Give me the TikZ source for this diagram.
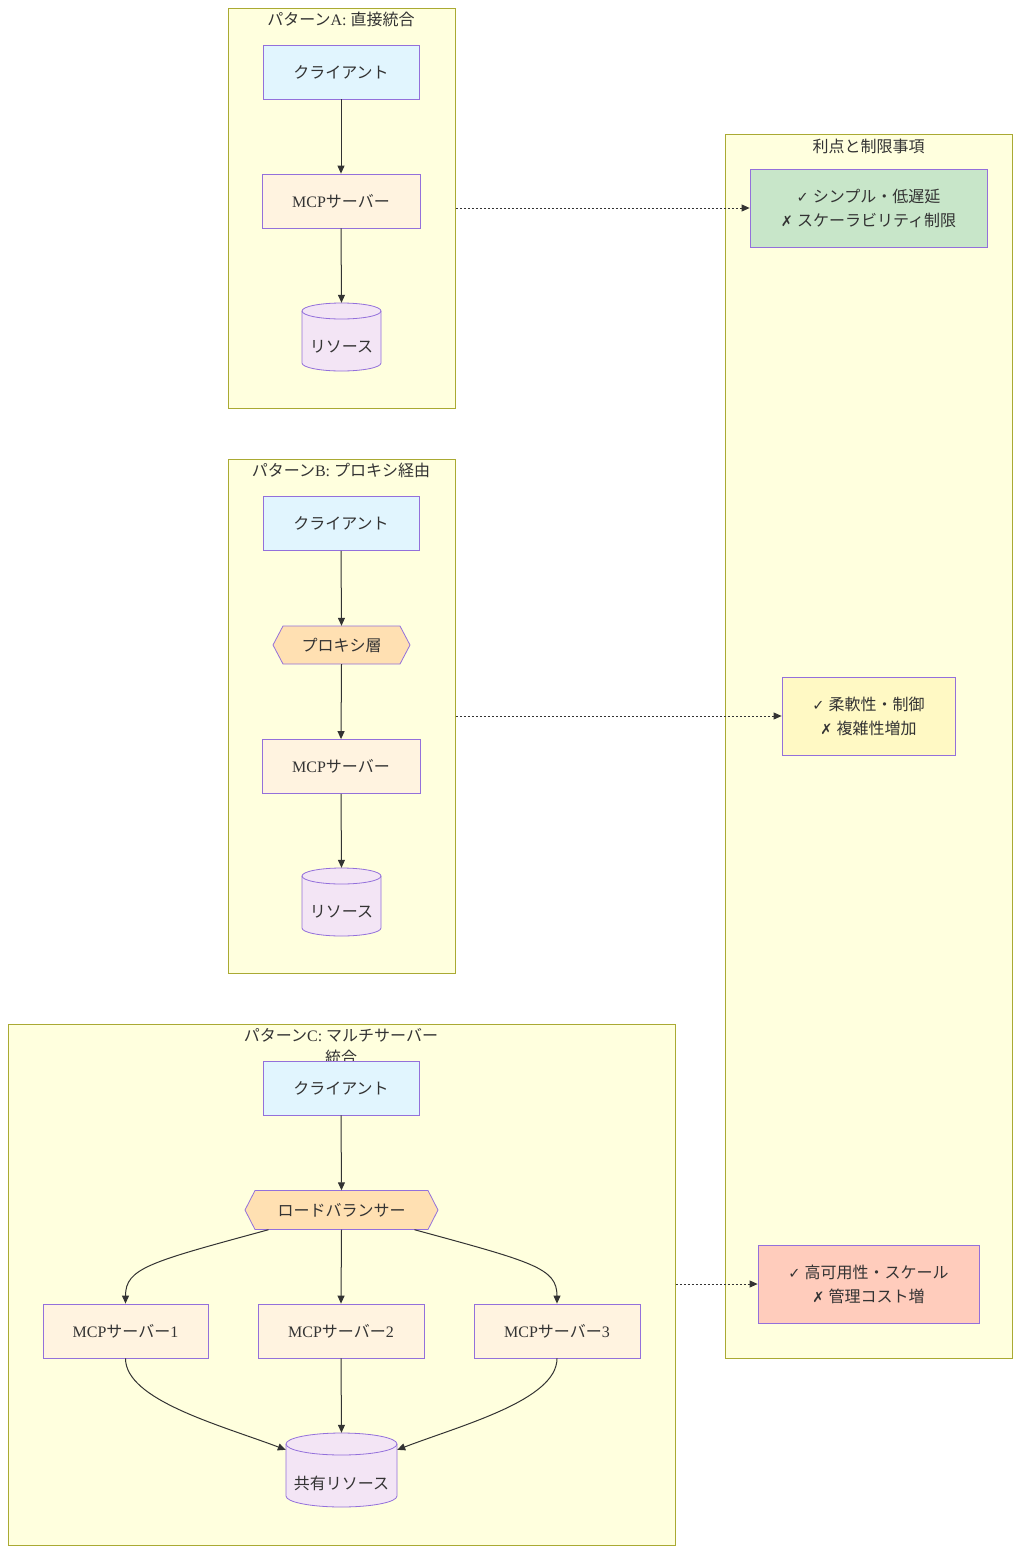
\documentclass[tikz,border=0pt]{standalone}
\usepackage{fontspec}
\setmainfont{Liberation Serif}
\newfontfamily\jp{Noto Sans CJK JP}
\newfontfamily\symf{DejaVu Sans}
\usetikzlibrary{arrows.meta,calc}
\definecolor{clfill}{HTML}{FFFFDE}
\definecolor{clborder}{HTML}{AAAA33}
\definecolor{nborder}{HTML}{9370DB}
\definecolor{clientfill}{HTML}{E1F5FE}
\definecolor{mcpfill}{HTML}{FFF3E0}
\definecolor{resfill}{HTML}{F3E5F5}
\definecolor{hexfill}{HTML}{FFE0B2}
\definecolor{profillA}{HTML}{C8E6C9}
\definecolor{profillB}{HTML}{FFF9C4}
\definecolor{profillC}{HTML}{FFCCBC}
\definecolor{edgecol}{HTML}{333333}
\definecolor{txtcol}{HTML}{333333}
\newcommand\J[1]{{\jp #1}}
\newcommand\myok{{\symf\fontsize{14.5}{16}\selectfont ✓}}
\newcommand\myng{{\symf\fontsize{14.5}{16}\selectfont ✗}}
% cylinder: name, cx, cy, w, h, ry, text
\newcommand\mycyl[7]{%
  \path[fill=resfill,draw=nborder,line width=0.8pt]
    (#2-#4/2,#3+#5/2-#6) -- (#2-#4/2,#3-#5/2+#6)
    arc[start angle=180,end angle=360,x radius=#4/2,y radius=#6]
    -- (#2+#4/2,#3+#5/2-#6)
    arc[start angle=0,end angle=180,x radius=#4/2,y radius=#6] -- cycle;
  \draw[draw=nborder,line width=0.8pt] (#2-#4/2,#3+#5/2-#6)
    arc[start angle=180,end angle=360,x radius=#4/2,y radius=#6];
  \node[inner sep=0,minimum width=#4,minimum height=#5] (#1) at (#2,#3) {};
  \node[txt] (#1-t) at (#2,#3-#6-2) {#7};}
% hexagon: name, cx, cy, w, h, d, text
\newcommand\myhex[7]{%
  \path[fill=hexfill,draw=nborder,line width=0.8pt]
    (#2-#4/2,#3) -- (#2-#4/2+#6,#3+#5/2) -- (#2+#4/2-#6,#3+#5/2)
    -- (#2+#4/2,#3) -- (#2+#4/2-#6,#3-#5/2) -- (#2-#4/2+#6,#3-#5/2) -- cycle;
  \node[txt,inner sep=0,minimum width=#4,minimum height=#5] (#1) at (#2,#3) {#7};}
\tikzset{
  txt/.style={text=txtcol,font=\fontsize{16}{24}\selectfont,align=center},
  cluster/.style={draw=clborder,fill=clfill,line width=0.8pt,anchor=north west,inner sep=0},
  box/.style={txt,draw=nborder,line width=0.8pt,inner sep=0},
  arr/.style={draw=edgecol,line width=1pt,-{Triangle[length=8pt,width=7pt]}},
  dotarr/.style={draw=edgecol,line width=0.8pt,dash pattern=on 2pt off 2pt,-{Triangle[length=8pt,width=7pt]}},
}
\begin{document}
\begin{tikzpicture}[x=1pt,y=1pt]
\fill[white] (0,0) rectangle (1020,-1553);
\useasboundingbox (0,0) rectangle (1020,-1553);
% clusters
\node[cluster,minimum width=227,minimum height=400] (clA) at (228,-8) {};
\node[cluster,minimum width=227,minimum height=514] (clB) at (228,-459) {};
\node[cluster,minimum width=667,minimum height=521] (clC) at (8,-1024) {};
\node[cluster,minimum width=287,minimum height=1224] (clR) at (725,-134) {};
\node[txt] (tA) at (341,-19) {\J{パターン}A: \J{直接統合}};
\node[txt] (tB) at (341,-470) {\J{パターン}B: \J{プロキシ経由}};
\node[txt] (tC1) at (341,-1035) {\J{パターン}C: \J{マルチサーバー}};
\node[txt] (tC2) at (341,-1057) {\J{統合}};
\node[txt] (tR) at (868.5,-146) {\J{利点と制限事項}};
% pattern A
\node[box,fill=clientfill,minimum width=156,minimum height=54] (cA) at (341,-72) {\J{クライアント}};
\node[box,fill=mcpfill,minimum width=158,minimum height=54] (mA) at (341,-201) {MCP\J{サーバー}};
\mycyl{rA}{341.5}{-337}{79}{68}{8}{\J{リソース}}
\draw[arr] (cA.south) -- (mA.north);
\draw[arr] (mA.south) -- (rA.north);
% pattern B
\node[box,fill=clientfill,minimum width=156,minimum height=54] (cB) at (341,-523.5) {\J{クライアント}};
\myhex{pB}{341.5}{-645}{137}{38}{10}{\J{プロキシ層}}
\node[box,fill=mcpfill,minimum width=158,minimum height=54] (mB) at (341,-766.5) {MCP\J{サーバー}};
\mycyl{rB}{341.5}{-902}{79}{68}{8}{\J{リソース}}
\draw[arr] (cB.south) -- (pB.north);
\draw[arr] (pB.south) -- (mB.north);
\draw[arr] (mB.south) -- (rB.north);
% pattern C
\node[box,fill=clientfill,minimum width=156,minimum height=54] (cC) at (341,-1088) {\J{クライアント}};
\myhex{lb}{341.5}{-1210}{193}{39}{10}{\J{ロードバランサー}}
\node[box,fill=mcpfill,minimum width=165,minimum height=54] (m1) at (125.5,-1331) {MCP\J{サーバー}1};
\node[box,fill=mcpfill,minimum width=166,minimum height=54] (m2) at (341,-1331) {MCP\J{サーバー}2};
\node[box,fill=mcpfill,minimum width=166,minimum height=54] (m3) at (557,-1331) {MCP\J{サーバー}3};
\mycyl{sh}{341.5}{-1470}{111}{74}{11}{\J{共有リソース}}
\draw[arr] (cC.south) -- (lb.north);
\draw[arr] (lb.south) -- (m2.north);
\draw[arr] ([xshift=-73]lb.south) .. controls (150,-1262) and (125.5,-1268) .. (m1.north);
\draw[arr] ([xshift=73]lb.south) .. controls (533,-1262) and (557,-1268) .. (m3.north);
\draw[arr] (m2.south) -- (sh.north);
\draw[arr] (m1.south) .. controls (125.5,-1400) and (220,-1425) .. ([yshift=-17]sh.north west);
\draw[arr] (m3.south) .. controls (557,-1400) and (462,-1425) .. ([yshift=-17]sh.north east);
% pros/cons
\node[box,fill=profillA,minimum width=237,minimum height=78] (pA) at (868.5,-208) {\myok\ \J{シンプル・低遅延}\\\myng\ \J{スケーラビリティ制限}};
\node[box,fill=profillB,minimum width=173,minimum height=78] (pBx) at (868.5,-716) {\myok\ \J{柔軟性・制御}\\\myng\ \J{複雑性増加}};
\node[box,fill=profillC,minimum width=221,minimum height=78] (pC) at (868.5,-1284) {\myok\ \J{高可用性・スケール}\\\myng\ \J{管理コスト増}};
\draw[dotarr] (clA.east |- pA.west) -- (pA.west);
\draw[dotarr] (clB.east |- pBx.west) -- (pBx.west);
\draw[dotarr] (clC.east |- pC.west) -- (pC.west);
\end{tikzpicture}
\end{document}
